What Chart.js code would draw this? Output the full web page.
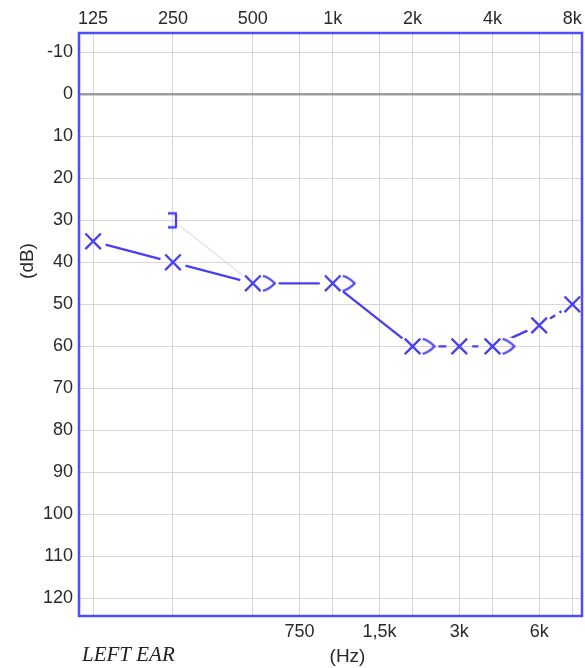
<!DOCTYPE html>
<html>
<head>
<meta charset="utf-8">
<script src="https://cdn.jsdelivr.net/npm/chart.js@4.4.1/dist/chart.umd.min.js"></script>
<style>
    html, body { margin: 0; padding: 0; background: #fff; overflow: hidden; }
    #wrap { width: 585px; height: 668px; position: relative; }
    canvas { display: block; }
</style>
</head>
<body>
<div id="wrap"><canvas id="audiogram"></canvas></div>
<script>
'use strict'

// axis ticks
const octaveFreqs = [125, 250, 500, 1000, 2000, 4000, 8000];
const octaveLabels = ['125', '250', '500', '1k', '2k', '4k', '8k'];
const midFreqs = [750, 1500, 3000, 6000];
const midLabels = ['750', '1,5k', '3k', '6k'];
const dbTicks = [-10, 0, 10, 20, 30, 40, 50, 60, 70, 80, 90, 100, 110, 120];

// left ear, air conduction (X)
const airFreqs = [125, 250, 500, 1000, 2000, 3000, 4000, 6000, 8000];
const airLeft = [35, 40, 45, 45, 60, 60, 60, 55, 50];

// left ear, bone conduction (> unmasked, ] masked)
const boneFreqs = [250, 500, 1000, 2000, 4000];
const boneLeft = [30, 45, 45, 60, 60];
const boneMasked = [true, false, false, false, false];

document.addEventListener("DOMContentLoaded", () => {
    const blue = '#4a3ff0';
    const textColor = '#2a2a2a';
    const boneOffset = 17;
    const font = '"Liberation Sans", Arial, sans-serif';

    function makeBoneSymbol(masked) {
        const c = document.createElement('canvas');
        c.width = 2 * (boneOffset + 10);
        c.height = 22;
        const g = c.getContext('2d');
        g.strokeStyle = blue;
        g.lineWidth = 2.3;
        g.lineJoin = 'round';
        g.beginPath();
        if (masked) {
            const cx = c.width / 2 + 3, cy = c.height / 2;
            g.moveTo(cx - 8, cy - 7);
            g.lineTo(cx, cy - 7);
            g.lineTo(cx, cy + 7);
            g.lineTo(cx - 8, cy + 7);
        } else {
            const cx = c.width / 2 + boneOffset, cy = c.height / 2;
            g.moveTo(cx - 7, cy - 7.5);
            g.quadraticCurveTo(cx - 1, cy - 6, cx + 5, cy);
            g.quadraticCurveTo(cx - 1, cy + 6, cx - 7, cy + 7.5);
        }
        g.stroke();
        return c;
    }

    const toPoints = (xs, ys) => xs.map((f, i) => ({x: f, y: ys[i]}));
    const airPoints = toPoints(airFreqs, airLeft);
    const bonePoints = toPoints(boneFreqs, boneLeft);
    const boneStyles = boneMasked.map(m => makeBoneSymbol(m));

    // gaps in the connecting lines around every symbol
    const gapPlugin = {
        id: 'gaps',
        beforeDatasetDraw(chart, args) {
            if (!chart.data.datasets[args.index].gapped) return;
            const ctx = chart.ctx;
            ctx.save();
            const holes = [];
            chart.getDatasetMeta(0).data.forEach(p => holes.push([p.x, p.y, 13]));
            chart.getDatasetMeta(1).data.forEach((p, i) => {
                if (boneMasked[i]) holes.push([p.x, p.y, 9]);
                else holes.push([p.x + boneOffset, p.y, 9]);
            });
            holes.forEach(([x, y, r]) => {
                ctx.beginPath();
                ctx.rect(0, 0, chart.width, chart.height);
                ctx.moveTo(x + r, y);
                ctx.arc(x, y, r, 0, Math.PI * 2);
                ctx.clip('evenodd');
            });
        },
        afterDatasetDraw(chart, args) {
            if (!chart.data.datasets[args.index].gapped) return;
            chart.ctx.restore();
        }
    };

    // the original lets the end labels hang over the frame
    const areaPlugin = {
        id: 'area',
        afterLayout(chart) {
            const a = chart.chartArea;
            a.right = chart.width - 3;
            a.width = a.right - a.left;
            ['x', 'x2'].forEach(id => {
                const s = chart.scales[id];
                s.right = a.right;
                s.width = a.width;
                s.configure();
            });
        }
    };

    const framePlugin = {
        id: 'frame',
        beforeDatasetsDraw(chart) {
            const {ctx, chartArea: a} = chart;
            ctx.save();
            ctx.strokeStyle = '#4d4dff';
            ctx.lineWidth = 2.5;
            ctx.strokeRect(a.left, a.top, a.right - a.left, a.bottom - a.top);
            ctx.restore();
        },
        afterDraw(chart) {
            const ctx = chart.ctx;
            ctx.save();
            ctx.fillStyle = textColor;
            ctx.textBaseline = 'middle';
            ctx.font = '19px ' + font;
            ctx.textAlign = 'center';
            ctx.fillText('(Hz)', 347.5, 656.5);
            ctx.translate(27.5, 261);
            ctx.rotate(-Math.PI / 2);
            ctx.fillText('(dB)', 0, 0);
            ctx.restore();
            ctx.save();
            ctx.fillStyle = '#222';
            ctx.textBaseline = 'middle';
            ctx.textAlign = 'left';
            ctx.font = 'italic 21px "Liberation Serif", "Times New Roman", serif';
            ctx.fillText('LEFT EAR', 82, 655);
            ctx.restore();
        }
    };

    const xCommon = {
        type: 'logarithmic',
        min: 110.6,
        max: 8700,
        border: {display: false},
        grid: {color: '#d6d6d6', lineWidth: 1, drawTicks: false},
    };

    new Chart(document.getElementById('audiogram'), {
        type: 'line',
        data: {
            datasets: [
                {
                    data: airPoints,
                    showLine: false,
                    pointStyle: 'crossRot',
                    pointRadius: 11,
                    pointBorderWidth: 2.3,
                    pointBorderColor: blue,
                    pointHoverRadius: 11,
                },
                {
                    data: bonePoints,
                    showLine: false,
                    pointStyle: boneStyles,
                    pointRadius: 10,
                    pointHoverRadius: 10,
                },
                {
                    data: airPoints,
                    gapped: true,
                    borderColor: blue,
                    borderWidth: 2.4,
                    pointRadius: 0,
                    pointHoverRadius: 0,
                    tension: 0,
                    segment: {
                        borderDash: ctx => (ctx.p0DataIndex === 5 || ctx.p0DataIndex === 7) ? [7, 5] : undefined
                    }
                },
                {
                    data: bonePoints,
                    gapped: true,
                    borderWidth: 1.5,
                    pointRadius: 0,
                    pointHoverRadius: 0,
                    segment: {
                        borderColor: ctx => ctx.p0DataIndex === 0 ? 'rgba(200, 200, 225, 0.45)' : 'rgba(0,0,0,0)'
                    }
                }
            ]
        },
        options: {
            responsive: true,
            maintainAspectRatio: false,
            animation: false,
            layout: {padding: {right: 3}},
            plugins: {
                legend: {display: false},
                tooltip: {enabled: false}
            },
            scales: {
                x: {
                    ...xCommon,
                    position: 'bottom',
                    afterBuildTicks: s => { s.ticks = midFreqs.map(v => ({value: v})); },
                    afterFit: s => { s.height = 52; },
                    ticks: {
                        callback: (v, i) => midLabels[i],
                        autoSkip: false, maxRotation: 0, padding: 5,
                        color: textColor, font: {size: 18, family: font}
                    }
                },
                x2: {
                    ...xCommon,
                    position: 'top',
                    afterBuildTicks: s => { s.ticks = octaveFreqs.map(v => ({value: v})); },
                    afterFit: s => { s.height = 33; },
                    ticks: {
                        callback: (v, i) => octaveLabels[i],
                        autoSkip: false, maxRotation: 0, padding: 3,
                        color: textColor, font: {size: 18, family: font}
                    }
                },
                y: {
                    type: 'linear',
                    reverse: true,
                    min: -14.6,
                    max: 124.2,
                    border: {display: false},
                    afterBuildTicks: s => { s.ticks = dbTicks.map(v => ({value: v})); },
                    afterFit: s => { s.width = 79; },
                    grid: {
                        drawTicks: false,
                        color: ctx => ctx.tick && ctx.tick.value === 0 ? '#9c9c9c' : '#d6d6d6',
                        lineWidth: ctx => ctx.tick && ctx.tick.value === 0 ? 2.5 : 1
                    },
                    ticks: {
                        callback: v => String(v),
                        padding: 6,
                        color: textColor, font: {size: 18, family: font}
                    }
                }
            }
        },
        plugins: [areaPlugin, gapPlugin, framePlugin]
    });
});
</script>
</body>
</html>
